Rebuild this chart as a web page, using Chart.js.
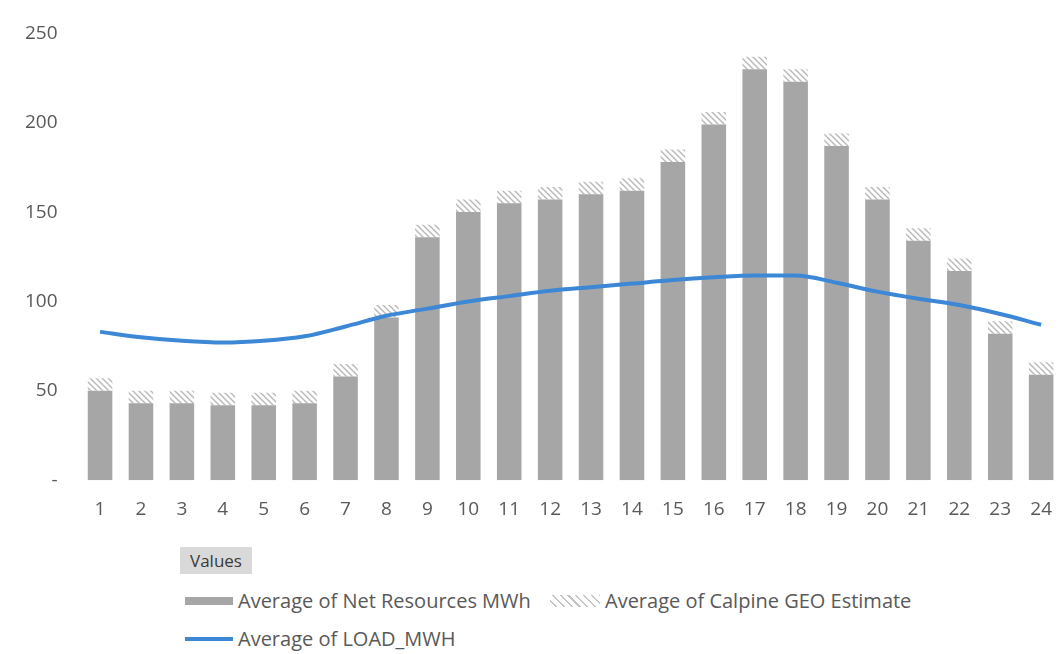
<!DOCTYPE html>
<html>
<head>
<meta charset="utf-8">
<script src="https://cdn.jsdelivr.net/npm/chart.js@4.4.0/dist/chart.umd.min.js"></script>
<style>
  body { margin: 0; background: #fff; font-family: "Open Sans", sans-serif; overflow: hidden; }
  #wrap { position: relative; width: 1058px; height: 654px; overflow: hidden; }
  #chart { position: absolute; left: 0; top: 0; }
  .legend { position: absolute; left: 0; top: 0; color: #595959; font-size: 20px; }
  .values { position: absolute; left: 180px; top: 547px; width: 72px; height: 27px; background: #d9d9d9;
            color: #3a3a3a; font-size: 17px; line-height: 27px; text-align: center; }
  .item { position: absolute; white-space: nowrap; line-height: 24px; display: flex; align-items: center; }
  .sw { display: inline-block; margin-right: 5px; }
</style>
</head>
<body>
<div id="wrap">
  <canvas id="chart" width="1070" height="539"></canvas>
  <div class="legend">
    <div class="values">Values</div>
    <div class="item" style="left:185px; top:589px;">
      <span class="sw" style="width:48px; height:8px; background:#a6a6a6;"></span>Average of Net Resources MWh
    </div>
    <div class="item" style="left:550px; top:589px;">
      <span class="sw" style="width:50px; height:12px; background:repeating-linear-gradient(45deg, #fff 0 4px, #c4c4c4 4px 5.5px);"></span>Average of Calpine GEO Estimate
    </div>
    <div class="item" style="left:185px; top:627px;">
      <span class="sw" style="width:48px; height:4px; background:#3c87d6;"></span>Average of LOAD_MWH
    </div>
  </div>
</div>
<script>
var hours = ["1","2","3","4","5","6","7","8","9","10","11","12","13","14","15","16","17","18","19","20","21","22","23","24"];
var netResources = [50, 43, 43, 42, 42, 43, 58, 91, 136, 150, 155, 157, 160, 162, 178, 199, 230, 223, 187, 157, 134, 117, 82, 59];
var calpineGeo = [7, 7, 7, 7, 7, 7, 7, 7, 7, 7, 7, 7, 7, 7, 7, 7, 7, 7, 7, 7, 7, 7, 7, 7];
var loadMwh = [83, 80, 78, 77, 78, 80.5, 86, 92, 96, 100, 103, 106, 108, 110, 112, 113.5, 114.5, 114.5, 110.5, 105.5, 101.5, 98, 93, 87];

// sparse diagonal hatch used for the GEO estimate cap
var hatchPattern = function () {
  var c = document.createElement("canvas");
  c.width = 6;
  c.height = 6;
  var g = c.getContext("2d");
  g.fillStyle = "#ffffff";
  g.fillRect(0, 0, 6, 6);
  g.strokeStyle = "#b8b8b8";
  g.lineWidth = 1.4;
  g.beginPath();
  g.moveTo(-1, -1); g.lineTo(7, 7);
  g.moveTo(-1, 5); g.lineTo(1, 7);
  g.moveTo(5, -1); g.lineTo(7, 1);
  g.stroke();
  return g.createPattern(c, "repeat");
};

var ctx = document.getElementById("chart").getContext("2d");
var tickFont = { family: "'Open Sans', sans-serif", size: 19 };

new Chart(ctx, {
  type: "bar",
  data: {
    labels: hours,
    datasets: [
      {
        type: "line",
        label: "Average of LOAD_MWH",
        data: loadMwh,
        borderColor: "#3c87d6",
        borderWidth: 4,
        pointRadius: 0,
        tension: 0.4,
        cubicInterpolationMode: "monotone",
        stack: "load",
        order: 0
      },
      {
        label: "Average of Net Resources MWh",
        data: netResources,
        backgroundColor: "#a6a6a6",
        stack: "res",
        order: 1
      },
      {
        label: "Average of Calpine GEO Estimate",
        data: calpineGeo,
        backgroundColor: hatchPattern(),
        stack: "res",
        order: 1
      }
    ]
  },
  options: {
    responsive: false,
    animation: false,
    layout: { padding: { top: 23, right: 0, left: 3, bottom: 0 } },
    datasets: { bar: { categoryPercentage: 1, barPercentage: 0.6 } },
    plugins: { legend: { display: false }, tooltip: { enabled: false } },
    scales: {
      x: {
        stacked: true,
        grid: { display: false, drawTicks: false },
        border: { display: false },
        ticks: { color: "#595959", font: tickFont, padding: 18, maxRotation: 0, autoSkip: false }
      },
      y: {
        stacked: true,
        min: 0,
        max: 250,
        grid: { display: false, drawTicks: false },
        border: { display: false },
        ticks: {
          stepSize: 50,
          color: "#595959",
          font: tickFont,
          padding: 22,
          callback: function (v) { return v === 0 ? "-" : v; }
        }
      }
    }
  }
});
</script>
</body>
</html>
